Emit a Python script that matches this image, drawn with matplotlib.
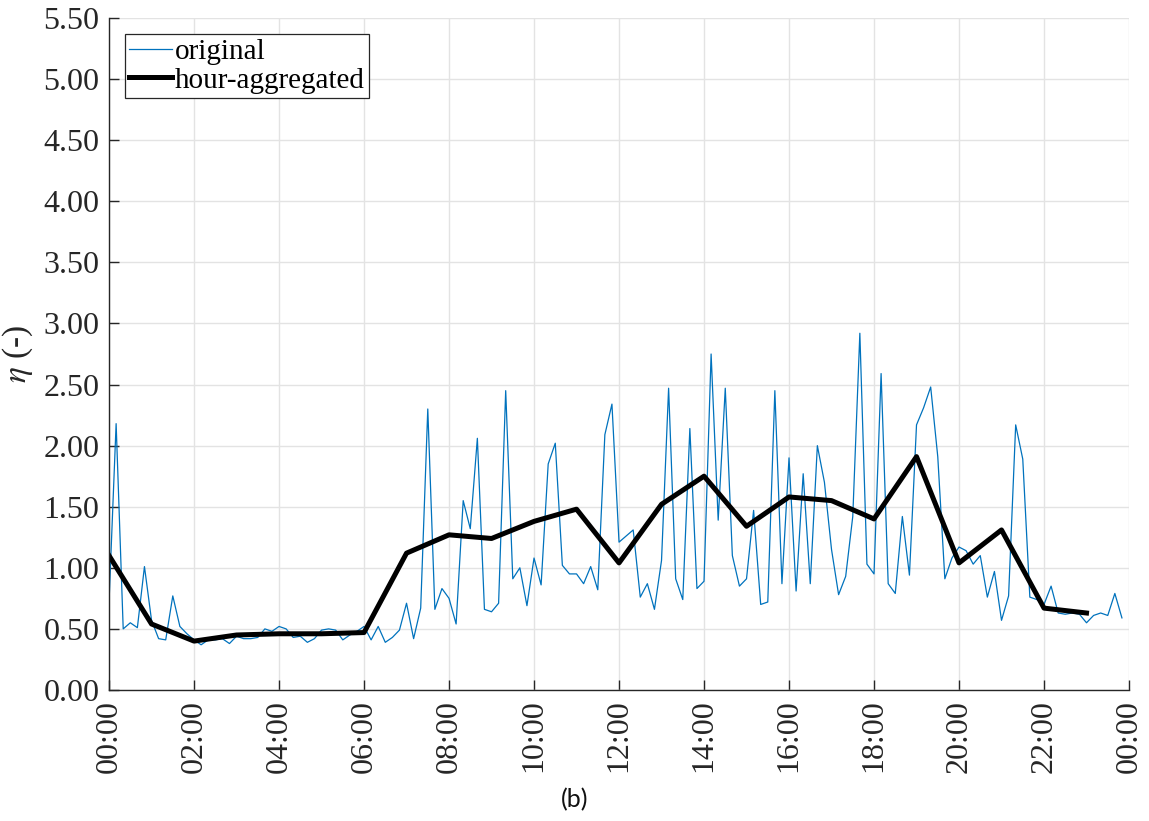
import matplotlib.pyplot as plt
import numpy as np

# 10-minute samples, 00:00 .. 23:50
original = [
    0.72, 2.18, 0.50, 0.55, 0.51, 1.01, 0.57, 0.42, 0.41, 0.77, 0.52, 0.46,
    0.41, 0.37, 0.41, 0.41, 0.42, 0.38, 0.44, 0.42, 0.42, 0.43, 0.50, 0.48,
    0.52, 0.50, 0.43, 0.44, 0.39, 0.42, 0.49, 0.50, 0.49, 0.41, 0.45, 0.48,
    0.52, 0.41, 0.52, 0.39, 0.43, 0.49, 0.71, 0.42, 0.67, 2.30, 0.66, 0.83,
    0.75, 0.54, 1.55, 1.32, 2.06, 0.66, 0.64, 0.71, 2.45, 0.91, 1.00, 0.69,
    1.08, 0.86, 1.85, 2.02, 1.02, 0.95, 0.95, 0.87, 1.01, 0.82, 2.09, 2.34,
    1.21, 1.26, 1.31, 0.76, 0.87, 0.66, 1.06, 2.47, 0.91, 0.74, 2.14, 0.83,
    0.89, 2.75, 1.39, 2.47, 1.10, 0.85, 0.91, 1.47, 0.70, 0.72, 2.45, 0.87,
    1.90, 0.81, 1.77, 0.87, 2.00, 1.70, 1.15, 0.78, 0.93, 1.42, 2.92, 1.03,
    0.95, 2.59, 0.87, 0.79, 1.42, 0.94, 2.17, 2.31, 2.48, 1.91, 0.91, 1.08,
    1.17, 1.14, 1.03, 1.10, 0.76, 0.97, 0.57, 0.77, 2.17, 1.89, 0.76, 0.74,
    0.70, 0.85, 0.63, 0.62, 0.63, 0.62, 0.55, 0.61, 0.63, 0.61, 0.79, 0.59,
]
t_original = np.arange(len(original)) / 6.0

# hourly means, 00:00 .. 23:00
hourly = [
    1.10, 0.54, 0.40, 0.45, 0.46, 0.46, 0.47, 1.12, 1.27, 1.24, 1.38, 1.48,
    1.04, 1.52, 1.75, 1.34, 1.58, 1.55, 1.40, 1.91, 1.04, 1.31, 0.67, 0.63,
]
t_hourly = np.arange(len(hourly))

xticks = np.arange(0, 25, 2)
xtick_labels = [f"{h % 24:02d}:00" for h in xticks]
yticks = np.arange(0, 5.51, 0.5)

plt.rcParams["font.family"] = ["Liberation Serif", "DejaVu Serif"]
plt.rcParams["mathtext.fontset"] = "stix"

axis_col = "#262626"

fig = plt.figure(figsize=(11.49, 8.21), dpi=100)
ax = fig.add_axes([0.0949, 0.1596, 0.8877, 0.8184])

ax.plot(t_original, original, color="#0072BD", lw=0.9, label="original")
ax.plot(t_hourly, hourly, color="black", lw=3.6, label="hour-aggregated")

ax.set_xlim(0, 24)
ax.set_ylim(0, 5.5)
ax.set_xticks(xticks)
ax.set_xticklabels(xtick_labels, rotation=90)
ax.set_yticks(yticks)
ax.set_yticklabels([f"{v:.2f}" for v in yticks])

ax.grid(True, color="#e3e3e3", lw=1.0)
ax.set_axisbelow(True)
for side in ("top", "right"):
    ax.spines[side].set_visible(False)
for side in ("left", "bottom"):
    ax.spines[side].set_color(axis_col)
    ax.spines[side].set_linewidth(1.0)
ax.tick_params(direction="in", length=7, width=1.0, colors=axis_col,
               labelsize=23, labelcolor=axis_col, pad=7)

ax.set_ylabel(r"$\eta$ (-)", fontsize=24, color=axis_col, labelpad=6)

leg = ax.legend(loc="upper left", fontsize=21, fancybox=False,
                edgecolor=axis_col, framealpha=1, handlelength=1.45,
                handletextpad=0.1, borderaxespad=0.55, borderpad=0.15,
                labelspacing=0.08)
leg.get_frame().set_linewidth(0.9)

fig.text(0.5, 0.012, "(b)", ha="center", va="bottom", fontsize=18,
         family=["Lato", "DejaVu Sans"], color="#111111")

fig.savefig("out.png", dpi=100)
